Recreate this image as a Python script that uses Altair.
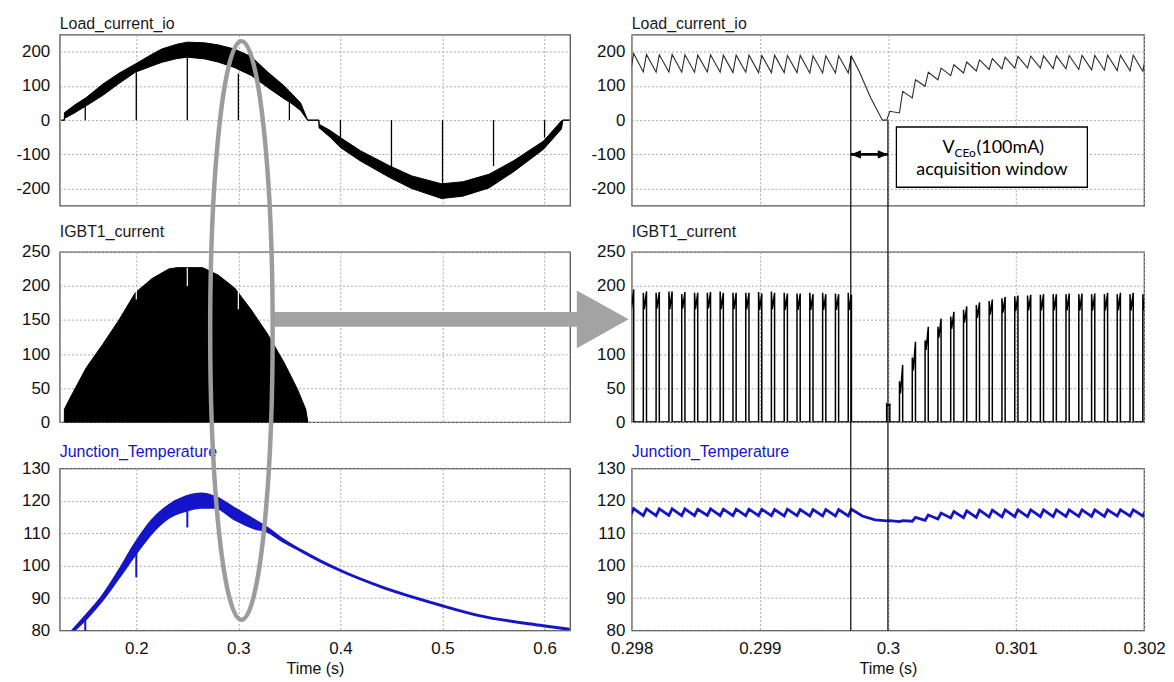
import altair as alt
import pandas as pd

# ---------------- left column : 0.125 .. 0.625 s ----------------
# Load_current_io : upper / lower envelope of the PWM band
lc_env_t = [0.1265, 0.1295, 0.1296, 0.140, 0.151, 0.167, 0.183, 0.199, 0.215, 0.225,
            0.240, 0.250, 0.267, 0.280, 0.296, 0.313, 0.329, 0.345, 0.3515, 0.361,
            0.3677, 0.3680, 0.3789, 0.3790, 0.390, 0.400, 0.420, 0.4485, 0.470, 0.499,
            0.520, 0.5456, 0.570, 0.599, 0.6165, 0.6180, 0.6245]
lc_env_hi = [0, 0, 22, 45, 66, 105, 137, 164, 192, 208,
             222, 228, 226, 220, 208, 185, 140, 100, 80, 50,
             2, 0, 0, -12, -30, -51, -90, -134, -163, -186,
             -180, -158, -118, -61, -2, 0, 0]
lc_env_lo = [0, 0, 5, 22, 42, 72, 107, 140, 158, 169,
             180, 184, 179, 170, 154, 130, 95, 62, 50, 28,
             0, 0, 0, -22, -50, -80, -120, -168, -200, -229,
             -222, -198, -150, -85, -26, 0, 0]
lc_spike_t = [0.15, 0.20, 0.25, 0.30, 0.35, 0.40, 0.45, 0.50, 0.55, 0.60]
lc_spike_v = [52, 140, 184, 136, 52, -51, -139, -187, -134, -51]

# IGBT1_current : envelope of the pulse train
ig_env_t = [0.1295, 0.1296, 0.1346, 0.151, 0.167, 0.183, 0.199, 0.2155, 0.2318, 0.240,
            0.265, 0.2803, 0.2964, 0.3126, 0.3288, 0.345, 0.358, 0.366, 0.3681]
ig_env_v = [0, 19, 34, 80, 114, 150, 190, 211, 225, 227,
            227, 216, 197, 165, 129, 87, 48, 19, 0]
ig_gap_t = [0.20, 0.25, 0.30]
ig_gap_top = [199, 227, 192]
ig_gap_bot = [180, 200, 166]

# Junction_Temperature : envelope
tj_env_t = [0.1350, 0.151, 0.167, 0.183, 0.199, 0.2155, 0.2318, 0.248, 0.264, 0.2771,
            0.2964, 0.316, 0.329, 0.3417, 0.361, 0.3806, 0.400, 0.4388, 0.499, 0.5359,
            0.5984, 0.6245]
tj_env_hi = [79.0, 84.6, 90.6, 98.3, 106.7, 113.9, 118.5, 121.1, 122.1, 121.1,
             117.5, 113.9, 111.4, 108.4, 104.7, 101.4, 98.5, 93.6, 87.7, 84.6,
             81.5, 80.4]
tj_env_lo = [79.0, 83.8, 89.6, 96.5, 103.6, 110.3, 114.9, 117.0, 118.0, 118.0,
             114.4, 111.6, 110.6, 108.0, 104.7, 101.4, 98.5, 93.6, 87.7, 84.6,
             81.5, 80.4]
tj_spike_t = [0.15, 0.20, 0.25, 0.30]
tj_spike_top = [84.0, 104.0, 117.0, 115.0]
tj_spike_bot = [79.0, 96.4, 111.8, 113.6]

# ---------------- right column : 0.298 .. 0.302 s ----------------
pulse_w = 0.000025
pulse_t_pre = [0.29799, 0.29809, 0.29819, 0.29829, 0.29839, 0.29849, 0.29859, 0.29869, 0.29879,
               0.29889, 0.29899, 0.29909, 0.29919, 0.29929, 0.29939, 0.29949, 0.29959, 0.29969]
pulse_t_post = [0.29999, 0.30009, 0.30019, 0.30029, 0.30039, 0.30049, 0.30059, 0.30069, 0.30079,
                0.30089, 0.30099, 0.30109, 0.30119, 0.30129, 0.30139, 0.30149, 0.30159, 0.30169,
                0.30179, 0.30189, 0.30199]

# load current: value at pulse start (lo) and pulse end (hi)
lc_lo_pre = [141, 141, 140, 141, 140, 140, 141, 140, 139, 140, 139, 139, 139, 139, 138, 138, 138, 138]
lc_hi_pre = [195, 192, 191, 192, 191, 190, 191, 190, 190, 190, 189, 190, 189, 189, 188, 188, 188, 187]
lc_fall_t = [0.299776, 0.299866, 0.299957]
lc_fall_v = [142, 65, 0]
lc_lo_post = [0, 21, 65, 99, 118, 130, 138, 144, 148, 150, 152, 153, 152, 151, 150, 148, 147, 146, 145, 144, 143]
lc_hi_post = [26, 84, 118, 140, 152, 162, 170, 176, 180, 184, 186, 187, 188, 188, 189, 189, 189, 190, 190, 190, 190]

# IGBT current pulses: turn-on spike, plateau, value at turn-off
ig_spike_pre = [188, 190, 190, 192, 188, 190, 190, 192, 190, 190, 191, 192, 190, 189, 190, 190, 189, 190]
ig_flat_pre = [167, 166, 167, 166, 167, 166, 167, 166, 166, 166, 165, 166, 165, 165, 165, 165, 165, 165]
ig_spike_post = [26, 60, 95, 120, 140, 155, 165, 172, 178, 182, 185, 186, 187, 188, 188, 188, 188, 188, 188, 188, 188]
ig_flat_post = [24, 42, 76, 106, 124, 137, 146, 153, 158, 161, 163, 164, 164, 164, 164, 164, 164, 164, 164, 164, 164]

# junction temperature: trough at pulse start, peak at pulse end
tj_lo_pre = [115.5, 115.4, 115.4, 115.5, 115.4, 115.4, 115.5, 115.4, 115.4,
             115.4, 115.4, 115.4, 115.3, 115.4, 115.3, 115.3, 115.3, 115.3]
tj_hi_pre = [117.6, 117.5, 117.5, 117.5, 117.5, 117.4, 117.5, 117.4, 117.4,
             117.4, 117.4, 117.3, 117.4, 117.3, 117.3, 117.3, 117.3, 117.4]
tj_fall_t = [0.29980, 0.29990]
tj_fall_v = [115.3, 114.1]
tj_lo_post = [113.8, 113.6, 113.7, 114.0, 114.4, 114.7, 114.8, 114.9, 115.0, 115.0, 115.1,
              115.1, 115.1, 115.1, 115.2, 115.2, 115.2, 115.2, 115.3, 115.3, 115.3]
tj_hi_post = [113.9, 113.9, 114.9, 115.6, 116.2, 116.7, 116.9, 117.1, 117.1, 117.2, 117.2,
              117.2, 117.2, 117.2, 117.2, 117.2, 117.2, 117.2, 117.2, 117.2, 117.2]

# annotation: acquisition window
win_t = [0.29971, 0.30000]
win_top = [187, 0]
box_t = [0.300066, 0.301557]
box_v = [-20, -196]

# ---------------- build tables ----------------
def sawtooth(starts, lo, hi, w):
    rows = []
    for t0, a, b in zip(starts, lo, hi):
        rows += [(t0, a), (t0 + w, b)]
    return rows


def pulse_train(starts, spike, flat, end, w):
    rows = []
    for t0, s, f, e in zip(starts, spike, flat, end):
        rows += [(t0, 0), (t0, s), (t0 + 0.3 * w, f), (t0 + w, e), (t0 + w, 0)]
    return rows


def frame(rows):
    df = pd.DataFrame(rows, columns=["t", "v"])
    df["i"] = range(len(df))
    return df


load_r = frame(sawtooth(pulse_t_pre, lc_lo_pre, lc_hi_pre, pulse_w)
               + list(zip(lc_fall_t, lc_fall_v))
               + sawtooth(pulse_t_post, lc_lo_post, lc_hi_post, pulse_w))
igbt_r = frame(pulse_train(pulse_t_pre, ig_spike_pre, ig_flat_pre, lc_hi_pre, pulse_w)
               + pulse_train(pulse_t_post, ig_spike_post, ig_flat_post, lc_hi_post, pulse_w))
tj_r = frame(sawtooth(pulse_t_pre, tj_lo_pre, tj_hi_pre, pulse_w)
             + list(zip(tj_fall_t, tj_fall_v))
             + sawtooth(pulse_t_post, tj_lo_post, tj_hi_post, pulse_w))

lc_env = pd.DataFrame({"t": lc_env_t, "hi": lc_env_hi, "lo": lc_env_lo})
lc_spk = pd.DataFrame({"t": lc_spike_t, "v": lc_spike_v})
ig_env = pd.DataFrame({"t": ig_env_t, "v": ig_env_v})
ig_gap = pd.DataFrame({"t": ig_gap_t, "hi": ig_gap_top, "lo": ig_gap_bot})
tj_env = pd.DataFrame({"t": tj_env_t, "hi": tj_env_hi, "lo": tj_env_lo})
tj_spk = pd.DataFrame({"t": tj_spike_t, "hi": tj_spike_top, "lo": tj_spike_bot})
win = pd.DataFrame({"t": win_t, "v": win_top})

# ---------------- layout / style ----------------
W_L, W_R = 513, 515
H_TOP, H_MID, H_BOT = 172, 171, 163
ROW_GAP, COL_GAP = 46.5, 62
FONT = "Liberation Sans"
BLUE = "#1414c8"
GREY = "#a3a3a3"
XL = [0.125, 0.625]
XR = [0.298, 0.302]
XL_T = [0.2, 0.3, 0.4, 0.5, 0.6]
XR_T = [0.298, 0.299, 0.3, 0.301, 0.302]
Y_LC = [-250, 250]
Y_LC_T = [-200, -100, 0, 100, 200]
Y_IG = [0, 250]
Y_IG_T = [0, 50, 100, 150, 200, 250]
Y_TJ = [80, 130]
Y_TJ_T = [80, 90, 100, 110, 120, 130]


def X(domain, ticks, labels, field="t"):
    ax = alt.Axis(values=ticks, labels=labels, labelExpr="'' + datum.value",
                  labelFlush=False, labelPadding=10, labelFontSize=17,
                  title="Time (s)" if labels else None, titlePadding=4,
                  grid=True, ticks=False, domain=False)
    return alt.X(f"{field}:Q", scale=alt.Scale(domain=domain, nice=False, zero=False), axis=ax)


def Y(domain, ticks, field="v", hide=None, pad=10):
    expr = "'' + datum.value" if hide is None else f"datum.value == {hide} ? '' : '' + datum.value"
    ax = alt.Axis(values=ticks, labelExpr=expr, labelPadding=pad, labelFontSize=17,
                  title=None, grid=True, ticks=False, domain=False)
    return alt.Y(f"{field}:Q", scale=alt.Scale(domain=domain, nice=False, zero=False), axis=ax)


def YR(domain, ticks, field="v", hide=None):
    return Y(domain, ticks, field, hide, pad=7)


def title(text, color="#1a1a1a"):
    return alt.TitleParams(text=text, anchor="start", frame="group", offset=3,
                           fontSize=16, font=FONT, fontWeight="normal", color=color)


def title_mark(text, color):
    df = pd.DataFrame({"s": [text]})
    return alt.Chart(df).mark_text(align="left", baseline="alphabetic", font=FONT, fontSize=16,
                                   color=color).encode(
        x=alt.value(0), y=alt.value(-11.5), text="s:N")


# ---- top-left
tl = alt.layer(
    alt.Chart(lc_env).mark_area(color="black", stroke="black", strokeWidth=1).encode(
        x=X(XL, XL_T, False), y=Y(Y_LC, Y_LC_T, "hi"), y2=alt.Y2("lo:Q")),
    alt.Chart(lc_spk).mark_rule(color="black", strokeWidth=1.3).encode(
        x=X(XL, XL_T, False), y=Y(Y_LC, Y_LC_T, "v"), y2=alt.datum(0)),
).properties(width=W_L, height=H_TOP, title=title("Load_current_io"))

# ---- top-right
arrow_df = pd.DataFrame({"t1": [win_t[0]], "t2": [win_t[1]], "v": [-100]})
head_l = pd.DataFrame({"t": [win_t[0]], "v": [-100]})
head_r = pd.DataFrame({"t": [win_t[1]], "v": [-100]})
box_df = pd.DataFrame({"x1": [box_t[0]], "x2": [box_t[1]], "y1": [box_v[0]], "y2": [box_v[1]]})
txt_big = pd.DataFrame({"t": [0.300425, 0.300692], "v": [-80, -80], "s": ["V", "(100mA)"]})
txt_sub = pd.DataFrame({"t": [0.300519], "v": [-95], "s": ["CEo"]})
txt_2 = pd.DataFrame({"t": [0.300812], "v": [-147], "s": ["acquisition window"]})

tr = alt.layer(
    alt.Chart(load_r).mark_line(color="#2a2a2a", strokeWidth=1.1, clip=True).encode(
        x=X(XR, XR_T, False), y=YR(Y_LC, Y_LC_T), order="i:Q"),
    alt.Chart(win).mark_rule(color="black", strokeWidth=1.2).encode(
        x=X(XR, XR_T, False), y=YR(Y_LC, Y_LC_T), y2=alt.value(H_TOP + ROW_GAP)),
    alt.Chart(arrow_df).mark_rule(color="black", strokeWidth=2.6).encode(
        x=X(XR, XR_T, False, "t1"), x2=alt.X2("t2:Q"), y=YR(Y_LC, Y_LC_T)),
    alt.Chart(head_l).mark_point(shape="M -1 0 L 1 -0.8 L 1 0.8 Z", filled=True, size=110,
                                 color="black", opacity=1, xOffset=5).encode(
        x=X(XR, XR_T, False), y=YR(Y_LC, Y_LC_T)),
    alt.Chart(head_r).mark_point(shape="M 1 0 L -1 -0.8 L -1 0.8 Z", filled=True, size=110,
                                 color="black", opacity=1, xOffset=-5).encode(
        x=X(XR, XR_T, False), y=YR(Y_LC, Y_LC_T)),
    alt.Chart(box_df).mark_rect(fill="white", stroke="black", strokeWidth=1.3).encode(
        x=X(XR, XR_T, False, "x1"), x2=alt.X2("x2:Q"), y=YR(Y_LC, Y_LC_T, "y1"), y2=alt.Y2("y2:Q")),
    alt.Chart(txt_big).mark_text(align="left", baseline="middle", font="Lato", fontSize=18,
                                 color="black").encode(
        x=X(XR, XR_T, False), y=YR(Y_LC, Y_LC_T), text="s:N"),
    alt.Chart(txt_sub).mark_text(align="left", baseline="middle", font="Lato", fontSize=12,
                                 color="black").encode(
        x=X(XR, XR_T, False), y=YR(Y_LC, Y_LC_T), text="s:N"),
    alt.Chart(txt_2).mark_text(align="center", baseline="middle", font="Lato", fontSize=18,
                               color="black").encode(
        x=X(XR, XR_T, False), y=YR(Y_LC, Y_LC_T), text="s:N"),
).properties(width=W_R, height=H_TOP, title=title("Load_current_io"))

# ---- middle-left
shaft = pd.DataFrame({"t1": [0.334], "t2": [0.6325], "v": [151]})
head = pd.DataFrame({"t": [0.657], "v": [151]})
ml = alt.layer(
    alt.Chart(ig_env).mark_area(color="black", stroke="black", strokeWidth=1).encode(
        x=X(XL, XL_T, False), y=Y(Y_IG, Y_IG_T)),
    alt.Chart(ig_gap).mark_rule(color="white", strokeWidth=1.2).encode(
        x=X(XL, XL_T, False), y=Y(Y_IG, Y_IG_T, "hi"), y2=alt.Y2("lo:Q")),
    alt.Chart(shaft).mark_rule(color=GREY, strokeWidth=15).encode(
        x=X(XL, XL_T, False, "t1"), x2=alt.X2("t2:Q"), y=Y(Y_IG, Y_IG_T)),
    alt.Chart(head).mark_point(shape="M -0.9 -1 L 0.9 0 L -0.9 1 Z", filled=True, size=3364,
                               color=GREY, opacity=1, strokeWidth=0).encode(
        x=X(XL, XL_T, False), y=Y(Y_IG, Y_IG_T)),
).properties(width=W_L, height=H_MID, title=title("IGBT1_current"))

# ---- middle-right
mr = alt.layer(
    alt.Chart(igbt_r).mark_line(color="black", strokeWidth=1.5, clip=True).encode(
        x=X(XR, XR_T, False), y=YR(Y_IG, Y_IG_T, hide=150), order="i:Q"),
    alt.Chart(win).mark_rule(color="black", strokeWidth=1.2).encode(
        x=X(XR, XR_T, False), y=alt.value(0), y2=alt.value(H_MID + ROW_GAP)),
).properties(width=W_R, height=H_MID, title=title("IGBT1_current"))

# ---- bottom-left
ellipse = pd.DataFrame({"t": [0.303], "v": [172.5]})
ELLIPSE = "M -0.108 0 A 0.108 1 0 1 1 0.108 0 A 0.108 1 0 1 1 -0.108 0 Z"
bl = alt.layer(
    alt.Chart(tj_env).mark_area(color=BLUE, stroke=BLUE, strokeWidth=3, clip=True,
                                interpolate="monotone").encode(
        x=X(XL, XL_T, True), y=Y(Y_TJ, Y_TJ_T, "hi"), y2=alt.Y2("lo:Q")),
    alt.Chart(tj_spk).mark_rule(color=BLUE, strokeWidth=2, clip=True).encode(
        x=X(XL, XL_T, True), y=Y(Y_TJ, Y_TJ_T, "hi"), y2=alt.Y2("lo:Q")),
    title_mark("Junction_Temperature", BLUE),
    alt.Chart(ellipse).mark_point(shape=ELLIPSE, filled=False, size=338000, color="#9c9c9c",
                                  strokeWidth=4.5, opacity=1).encode(
        x=X(XL, XL_T, True), y=Y(Y_TJ, Y_TJ_T)),
).properties(width=W_L, height=H_BOT)

# ---- bottom-right
br = alt.layer(
    alt.Chart(tj_r).mark_line(color=BLUE, strokeWidth=2.8, clip=True).encode(
        x=X(XR, XR_T, True), y=YR(Y_TJ, Y_TJ_T), order="i:Q"),
    alt.Chart(win).mark_rule(color="black", strokeWidth=1.2).encode(
        x=X(XR, XR_T, True), y=alt.value(0), y2=alt.value(H_BOT)),
    title_mark("Junction_Temperature", BLUE),
).properties(width=W_R, height=H_BOT)

chart = alt.concat(
    tl, tr, ml, mr, bl, br,
    columns=2,
    spacing={"row": ROW_GAP, "column": COL_GAP},
    bounds="flush",
).properties(
    padding={"left": 7, "top": 5, "right": 0, "bottom": 0},
).configure_view(
    stroke="#555555", strokeWidth=1.3,
).configure_axis(
    gridColor="#a8a8a8", gridDash=[2, 2], gridWidth=1,
    labelFont=FONT, labelColor="#111111",
    titleFont=FONT, titleFontSize=16, titleFontWeight="normal", titleColor="#111111",
)

chart.save("out.html", embed_options={"renderer": "svg", "actions": False})
